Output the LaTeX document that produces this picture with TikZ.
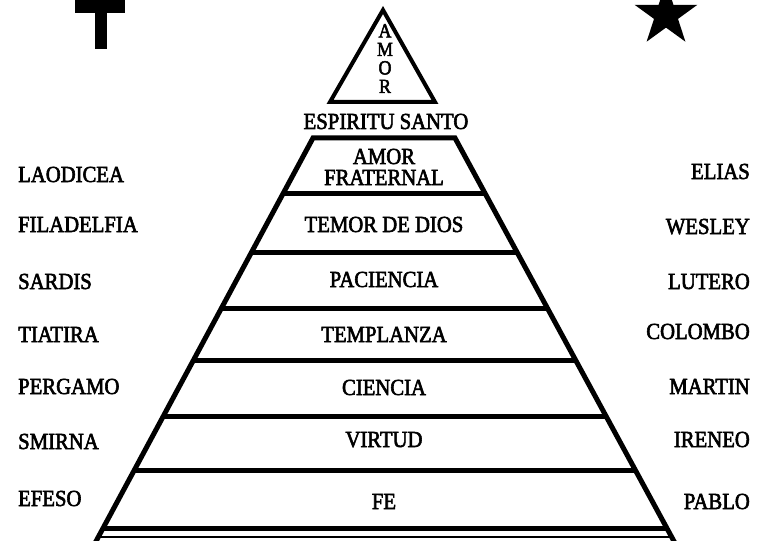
\documentclass[tikz,border=0pt]{standalone}
\usepackage{fontspec}
\setmainfont{Liberation Serif}[FakeStretch=0.9,FakeBold=2.5]
\usetikzlibrary{shapes.geometric}

\begin{document}
\begin{tikzpicture}[x=1pt,y=-1pt,
        grueso/.style={line width=5pt},
        palabra/.style={font=\fontsize{23}{21}\selectfont,inner sep=0pt,anchor=base},
        iglesia/.style={palabra,anchor=base west},
        hombre/.style={palabra,anchor=base east}]
    \clip (0,0) rectangle (775,540);
    % cruz y estrella
    \fill (75,-5) rectangle (125,13);
    \fill (95,-5) rectangle (107,49);
    \node[star,star points=5,star point ratio=2.618,minimum size=66pt,inner sep=0pt,fill] (estrella) at (666,15) {};
    % triangulo de arriba
    \draw[line width=4pt] (383,10) -- (330,102) -- (435,102) -- cycle;
    \node[palabra,align=center,font=\fontsize{20}{18.5}\selectfont,anchor=north] (amor) at (385,24) {A\\M\\O\\R};
    \node[palabra] (espiritu) at (386,129) {ESPIRITU SANTO};
    % piramide
    \draw[grueso] (94,545) -- (313,138) -- (455,138) -- (676,545);
    \foreach \y in {193,252,308,360,416,470,528}
        \draw[grueso] ({313-(\y-138)*0.538},\y) -- ({455+(\y-138)*0.543},\y);
    \draw[line width=2pt] ({313-(537-138)*0.538},537) -- ({455+(537-138)*0.543},537);
    \node[palabra,align=center] (fraternal) at (384,185) {AMOR\\FRATERNAL};
    \foreach \y/\virtud [count=\i] in {232/TEMOR DE DIOS,287/PACIENCIA,342/TEMPLANZA,
            395/CIENCIA,447/VIRTUD,509/FE}
        \node[palabra] (v\i) at (384,\y) {\virtud};
    % iglesias y hombres
    \foreach \yl/\nombre [count=\i] in {182/LAODICEA,232/FILADELFIA,289/SARDIS,342/TIATIRA,
            394/PERGAMO,449/SMIRNA,506/EFESO}
        \node[iglesia] (c\i) at (18,\yl) {\nombre};
    \foreach \yr/\nombre [count=\i] in {179/ELIAS,234/WESLEY,289/LUTERO,339/COLOMBO,
            394/MARTIN,447/IRENEO,509/PABLO}
        \node[hombre] (h\i) at (750,\yr) {\nombre};
\end{tikzpicture}
\end{document}
